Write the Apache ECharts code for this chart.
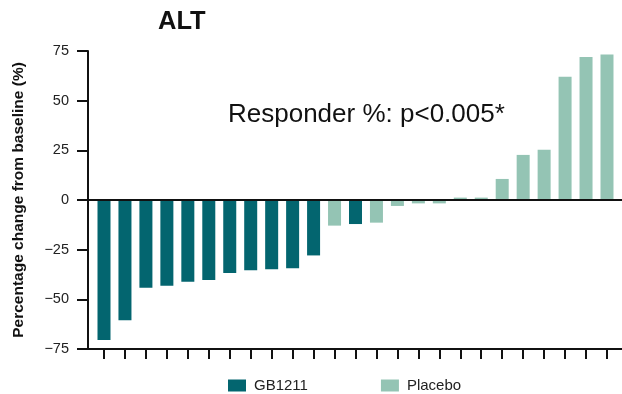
<!DOCTYPE html>
<html>
<head>
<meta charset="utf-8">
<style>
  html, body { margin: 0; padding: 0; background: #ffffff; }
  #chart { width: 622px; height: 394px; }
</style>
<script src="https://cdn.jsdelivr.net/npm/echarts@6/dist/echarts.min.js"></script>
</head>
<body>
<div id="chart"></div>
<script>
// Waterfall of ALT change per patient, ordered from largest decrease to largest increase
const patientSlots = [1, 2, 3, 4, 5, 6, 7, 8, 9, 10, 11, 12, 13, 14, 15, 16, 17, 18, 19, 20, 21, 22, 23, 24, 25];

const gbSlots = [1, 2, 3, 4, 5, 6, 7, 8, 9, 10, 11, 13];
const gbValues = [-70.5, -60.5, -44.2, -43.2, -41.1, -40.3, -36.8, -35.4, -34.9, -34.4, -27.9, -12.1];

const placeboSlots = [12, 14, 15, 16, 17, 18, 19, 20, 21, 22, 23, 24, 25];
const placeboValues = [-12.9, -11.4, -3.0, -1.7, -1.7, 1.2, 1.2, 10.6, 22.7, 25.3, 62.1, 72.0, 73.2];

const yTicks = [-75, -50, -25, 0, 25, 50, 75];

const seriesNames = ['GB1211', 'Placebo'];
const titleText = 'ALT';
const noteText = 'Responder %: p<0.005*';
const yAxisTitle = 'Percentage change from baseline (%)';

const pairs = (xs, ys) => xs.map((x, i) => [x, ys[i]]);

const chart = echarts.init(document.getElementById('chart'), null, { renderer: 'canvas' });

chart.setOption({
  animation: false,
  backgroundColor: '#ffffff',
  textStyle: { fontFamily: 'Liberation Sans, Arial, sans-serif' },
  title: [
    {
      text: titleText,
      left: 153,
      top: 4,
      textStyle: { fontSize: 25.5, fontWeight: 'bold', color: '#111111', fontFamily: 'Liberation Sans, Arial, sans-serif' }
    },
    {
      text: noteText,
      left: 223,
      top: 97,
      textStyle: { fontSize: 26, fontWeight: 'normal', color: '#111111', fontFamily: 'Liberation Sans, Arial, sans-serif' }
    }
  ],
  legend: {
    data: seriesNames,
    left: 223,
    top: 373,
    itemWidth: 18,
    itemHeight: 12,
    itemGap: 73,
    icon: 'rect',
    textStyle: { fontSize: 15, color: '#222222', padding: [0, 0, 0, 3], fontFamily: 'Liberation Sans, Arial, sans-serif' }
  },
  grid: { left: 88, right: 0, top: 51, bottom: 45 },
  xAxis: {
    type: 'value',
    min: 0.2366,
    max: 25.716,
    splitLine: { show: false },
    axisLabel: { show: false },
    axisLine: { show: true, onZero: false, lineStyle: { color: '#111111', width: 2 } },
    axisTick: {
      show: true,
      length: 10,
      customValues: patientSlots,
      lineStyle: { color: '#111111', width: 2 }
    }
  },
  yAxis: {
    type: 'value',
    min: -75,
    max: 75,
    interval: 25,
    splitLine: { show: false },
    axisLine: { show: true, lineStyle: { color: '#111111', width: 2 } },
    axisTick: { show: true, length: 11, lineStyle: { color: '#111111', width: 2 } },
    axisLabel: {
      margin: 19,
      fontSize: 14.5,
      color: '#222222',
      customValues: yTicks,
      formatter: v => String(v).replace('-', '\u2212')
    },
    name: yAxisTitle,
    nameLocation: 'middle',
    nameGap: 61,
    nameTextStyle: { fontSize: 15.5, fontWeight: 'bold', color: '#111111' }
  },
  series: [
    {
      name: seriesNames[0],
      type: 'bar',
      barWidth: 13,
      barGap: '-100%',
      itemStyle: { color: '#03656f' },
      data: pairs(gbSlots, gbValues),
      markLine: {
        silent: true,
        symbol: 'none',
        label: { show: false },
        lineStyle: { color: '#111111', width: 2, type: 'solid' },
        data: [{ yAxis: 0 }]
      }
    },
    {
      name: seriesNames[1],
      type: 'bar',
      barWidth: 13,
      barGap: '-100%',
      itemStyle: { color: '#94c4b4' },
      data: pairs(placeboSlots, placeboValues)
    }
  ]
});
</script>
</body>
</html>
